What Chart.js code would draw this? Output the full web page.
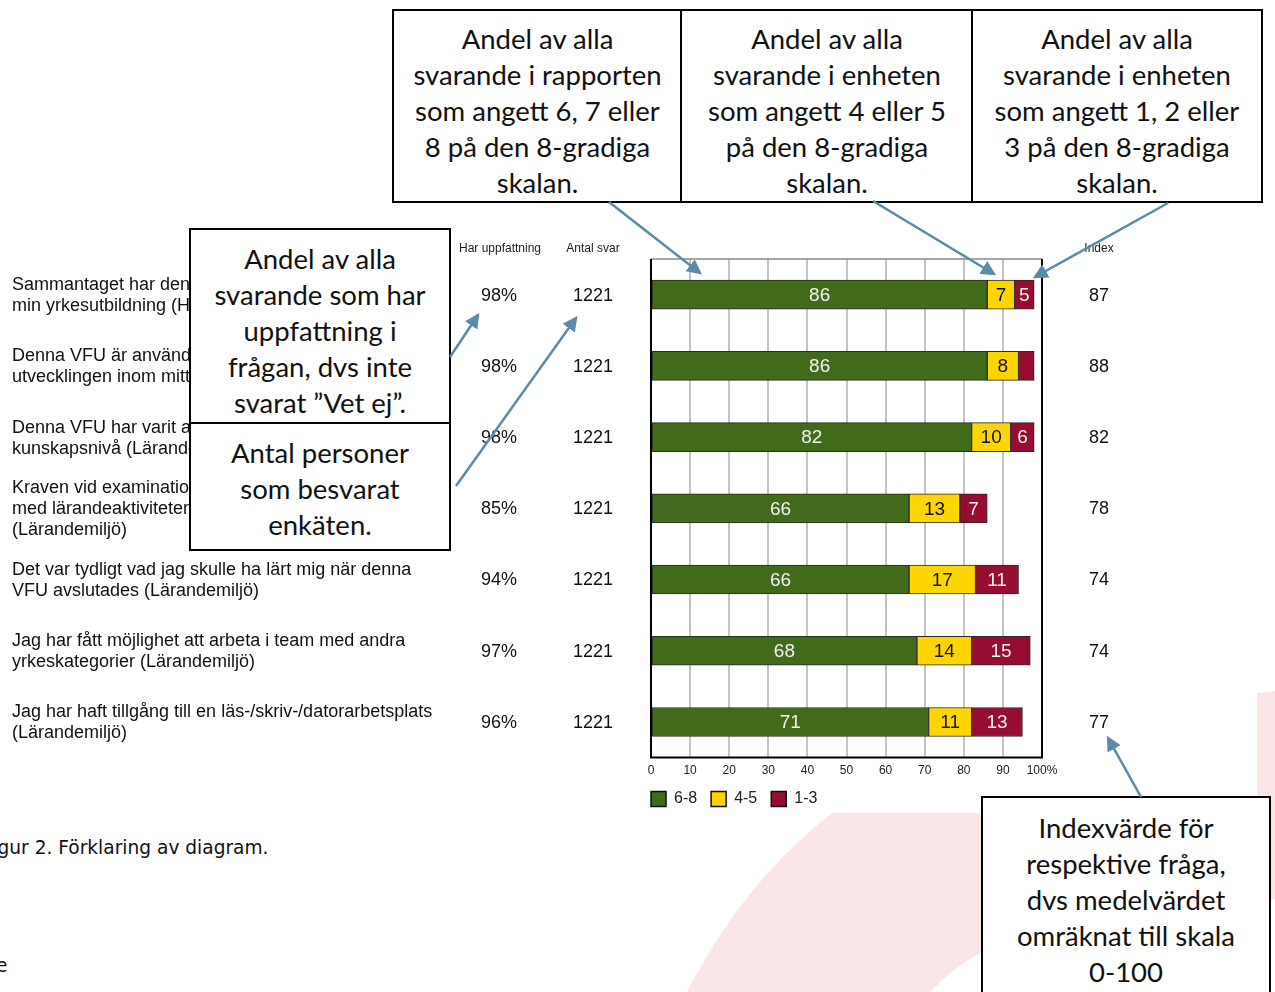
<!DOCTYPE html>
<html>
<head>
<meta charset="utf-8">
<script src="https://cdn.jsdelivr.net/npm/chart.js@4/dist/chart.umd.min.js"></script>
<style>
    body { margin: 0; width: 1275px; height: 992px; overflow: hidden; background: #fff; position: relative; font-family: "Liberation Sans", Arial, sans-serif; }
    #bg, #arrows { position: absolute; left: 0; top: 0; }
    #chart { position: absolute; left: 0; top: 0; }
    .box { position: absolute; background: #fff; border: 2.5px solid #000; box-sizing: border-box; overflow: hidden;
           font-family: Lato, "Open Sans", sans-serif; font-size: 27.5px; line-height: 36px; color: #111; text-align: center; white-space: nowrap; }
    .caption { position: absolute; font-family: "DejaVu Sans", Verdana, sans-serif; font-size: 18.6px; color: #111; white-space: nowrap; }
</style>
</head>
<body>
<svg id="bg" width="1275" height="992">
    <path d="M832,813 L990,813 L990,948 Q955,965 930,992 L687,992 Q745,880 832,813 Z" fill="#fae6e6"/>
    <path d="M1257,693 L1275,691 L1275,899 L1257,899 Z" fill="#fae6e6"/>
</svg>

<canvas id="chart" width="1275" height="824"></canvas>

<!-- callout boxes -->
<div class="box" style="left:392px; top:9px; width:291px; height:194px; padding-top:10px;">Andel av alla<br>svarande i rapporten<br>som angett 6, 7 eller<br>8 på den 8-gradiga<br>skalan.</div>
<div class="box" style="left:680px; top:9px; width:294px; height:194px; padding-top:10px;">Andel av alla<br>svarande i enheten<br>som angett 4 eller 5<br>på den 8-gradiga<br>skalan.</div>
<div class="box" style="left:971px; top:9px; width:292px; height:194px; padding-top:10px;">Andel av alla<br>svarande i enheten<br>som angett 1, 2 eller<br>3 på den 8-gradiga<br>skalan.</div>
<div class="box" style="left:189px; top:228px; width:262px; height:198px; padding-top:11px;">Andel av alla<br>svarande som har<br>uppfattning i<br>frågan, dvs inte<br>svarat ”Vet ej”.</div>
<div class="box" style="left:189px; top:422px; width:262px; height:129px; padding-top:11px;">Antal personer<br>som besvarat<br>enkäten.</div>
<div class="box" style="left:981px; top:796px; width:290px; height:210px; padding-top:12px;">Indexvärde för<br>respektive fråga,<br>dvs medelvärdet<br>omräknat till skala<br>0-100</div>

<div class="caption" style="left:-17px; top:837px;">Figur 2. Förklaring av diagram.</div>
<div class="caption" style="left:-4px; top:955px;">e</div>

<svg id="arrows" width="1275" height="992">
    <defs>
        <marker id="head" markerWidth="6" markerHeight="6" refX="5" refY="3" orient="auto" markerUnits="strokeWidth">
            <path d="M0,0 L6,3 L0,6 Z" fill="#5b8ba7"/>
        </marker>
    </defs>
    <g stroke="#5b8ba7" stroke-width="2.5" fill="none" marker-end="url(#head)">
        <line x1="609" y1="202" x2="700" y2="273"/>
        <line x1="873" y1="201" x2="994" y2="274"/>
        <line x1="1168" y1="203" x2="1035" y2="277"/>
        <line x1="450" y1="357" x2="478" y2="315"/>
        <line x1="456" y1="486" x2="576" y2="318"/>
        <line x1="1141" y1="797" x2="1108" y2="738"/>
    </g>
</svg>

<script>
//questions (the hidden ends are covered by the callout boxes)
const questions = [
    ['Sammantaget har denna VFU varit värdefull för', 'min yrkesutbildning (Helhetsomdöme)'],
    ['Denna VFU är användbar för', 'utvecklingen inom mitt yrke (Lärandemiljö)'],
    ['Denna VFU har varit anpassad till min', 'kunskapsnivå (Lärandemiljö)'],
    ['Kraven vid examinationen var i linje', 'med lärandeaktiviteterna', '(Lärandemiljö)'],
    ['Det var tydligt vad jag skulle ha lärt mig när denna', 'VFU avslutades (Lärandemiljö)'],
    ['Jag har fått möjlighet att arbeta i team med andra', 'yrkeskategorier (Lärandemiljö)'],
    ['Jag har haft tillgång till en läs-/skriv-/datorarbetsplats', '(Lärandemiljö)'],
];

//stacked shares, percent
const high = [86, 86, 82, 66, 66, 68, 71];   // 6-8
const mid  = [7, 8, 10, 13, 17, 14, 11];     // 4-5
const low  = [5, 4, 6, 7, 11, 15, 13];       // 1-3

//side columns
const harUppfattning = [98, 98, 98, 85, 94, 97, 96];
const antalSvar = [1221, 1221, 1221, 1221, 1221, 1221, 1221];
const indexValues = [87, 88, 82, 78, 74, 74, 77];

const xTicks = [0, 10, 20, 30, 40, 50, 60, 70, 80, 90, 100];

const green = '#426a1b', yellow = '#ffd500', red = '#970c31';
const arial = '"Liberation Sans", Arial, sans-serif';

/*
    Plugins
*/
const segmentLabels = {
    id: 'segmentLabels',
    afterDatasetsDraw(chart) {
        const ctx = chart.ctx;
        ctx.save();
        ctx.font = '19px ' + arial;
        ctx.textAlign = 'center';
        ctx.textBaseline = 'middle';
        chart.data.datasets.forEach((ds, di) => {
            const meta = chart.getDatasetMeta(di);
            meta.data.forEach((bar, i) => {
                const w = Math.abs(bar.x - bar.base);
                if (w < 16) return;
                ctx.fillStyle = ds.labelColor;
                ctx.fillText(ds.data[i], (bar.x + bar.base) / 2, bar.y + 1);
            });
        });
        ctx.restore();
    }
};

// legend starts flush with the plot's left edge and sits a bit closer to the axis
const legendPlace = {
    id: 'legendPlace',
    afterLayout(chart) {
        const lg = chart.legend;
        lg.left = chart.chartArea.left - lg.options.labels.padding;
        lg.top -= 7;
    }
};

const frameAndColumns = {
    id: 'frameAndColumns',
    afterDraw(chart) {
        const ctx = chart.ctx;
        const a = chart.chartArea;
        const y = chart.scales.y;
        ctx.save();

        // frame
        ctx.strokeStyle = '#8a8a8a';
        ctx.lineWidth = 1.5;
        ctx.beginPath();
        ctx.moveTo(a.left, a.top); ctx.lineTo(a.right, a.top);
        ctx.stroke();
        ctx.strokeStyle = '#000';
        ctx.lineWidth = 2;
        ctx.beginPath();
        ctx.moveTo(a.left, a.top); ctx.lineTo(a.left, a.bottom);
        ctx.lineTo(a.right, a.bottom); ctx.lineTo(a.right, a.top);
        ctx.stroke();

        // column headers
        ctx.fillStyle = '#222';
        ctx.font = '12px ' + arial;
        ctx.textAlign = 'center';
        ctx.textBaseline = 'middle';
        ctx.fillText('Har uppfattning', 500, 249);
        ctx.fillText('Antal svar', 593, 249);
        ctx.fillText('Index', 1099, 249);

        // values and questions
        ctx.font = '18px ' + arial;
        questions.forEach((q, i) => {
            const cy = y.getPixelForValue(i) + 1;
            ctx.fillStyle = '#111';
            ctx.textAlign = 'center';
            ctx.fillText(harUppfattning[i] + '%', 499, cy);
            ctx.fillText(antalSvar[i], 593, cy);
            ctx.fillText(indexValues[i], 1099, cy);

            ctx.textAlign = 'left';
            const lh = 21;
            const y0 = cy - (q.length - 1) * lh / 2;
            q.forEach((line, k) => ctx.fillText(line, 12, y0 + k * lh));
        });
        ctx.restore();
    }
};

/*
    Chart
*/
const ctx = document.getElementById('chart').getContext('2d');
const chart = new Chart(ctx, {
    type: 'bar',
    data: {
        labels: questions,
        datasets: [
            { label: '6-8', data: high, backgroundColor: green, labelColor: '#f2f2f2' },
            { label: '4-5', data: mid, backgroundColor: yellow, labelColor: '#111' },
            { label: '1-3', data: low, backgroundColor: red, labelColor: '#f2f2f2' },
        ].map(d => Object.assign(d, {
            borderColor: '#2a2a2a',
            borderWidth: 1,
            borderSkipped: false,
            barThickness: 29,
        })),
    },
    options: {
        indexAxis: 'y',
        responsive: false,
        animation: false,
        layout: {
            padding: { left: 651, right: 233, top: 259, bottom: 0 },
        },
        plugins: {
            legend: {
                position: 'bottom',
                align: 'start',
                fullSize: false,
                labels: {
                    boxWidth: 15,
                    boxHeight: 15,
                    padding: 14,
                    color: '#222',
                    font: { size: 16, family: arial },
                    generateLabels: c => Chart.defaults.plugins.legend.labels.generateLabels(c)
                        .map(l => Object.assign(l, { lineWidth: 1.5, strokeStyle: '#111' })),
                },
            },
            tooltip: { enabled: false },
        },
        scales: {
            x: {
                stacked: true,
                min: 0,
                max: 100,
                afterBuildTicks: axis => { axis.ticks = xTicks.map(v => ({ value: v })); },
                ticks: {
                    color: '#222',
                    padding: 6,
                    maxRotation: 0,
                    autoSkip: false,
                    font: { size: 12, family: arial },
                    callback: v => v === 100 ? '100%' : v,
                },
                grid: { color: '#c4c4c4', lineWidth: 2, drawTicks: false },
                border: { display: false },
            },
            y: {
                stacked: true,
                display: false,
            },
        },
    },
    plugins: [segmentLabels, legendPlace, frameAndColumns],
});
</script>
</body>
</html>
